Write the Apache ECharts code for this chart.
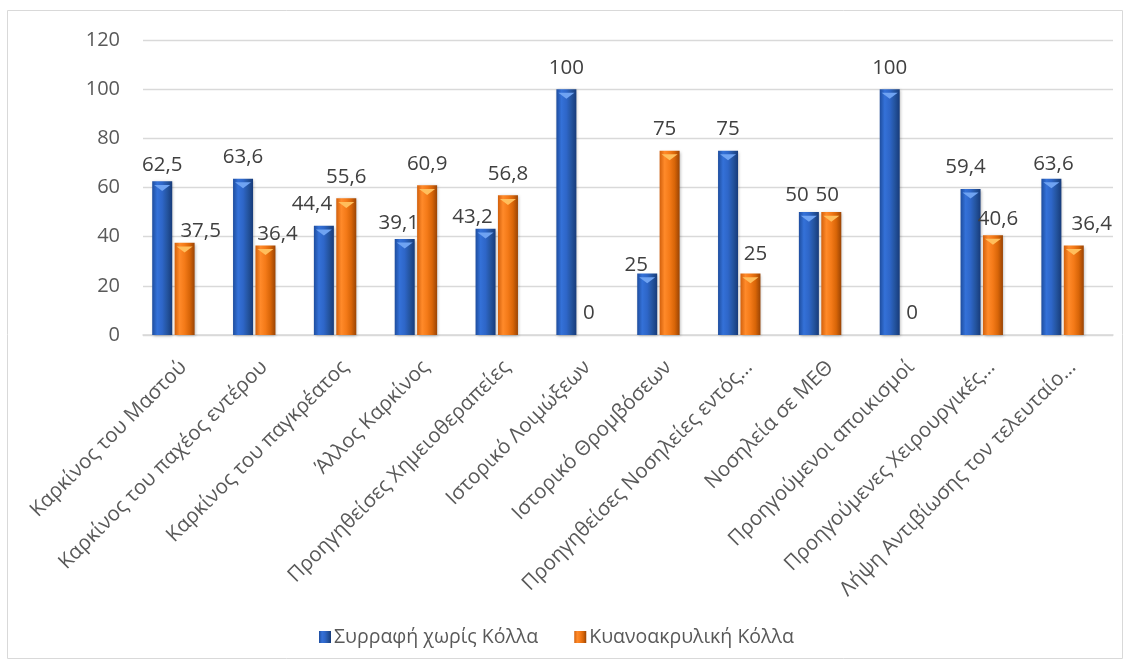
<!DOCTYPE html>
<html>
<head>
<meta charset="utf-8">
<script src="https://cdn.jsdelivr.net/npm/echarts@6/dist/echarts.min.js"></script>
<style>
  html, body { margin: 0; padding: 0; background: #fff; }
  #chart { width: 1131px; height: 665px; }
</style>
</head>
<body>
<div id="chart"></div>
<script>
// Categories (risk factors) and the percentage for each closure method
const categories = [
  'Καρκίνος του Μαστού',
  'Καρκίνος του παχέος εντέρου',
  'Καρκίνος του παγκρέατος',
  'Άλλος Καρκίνος',
  'Προηγηθείσες Χημειοθεραπείες',
  'Ιστορικό Λοιμώξεων',
  'Ιστορικό Θρομβόσεων',
  'Προηγηθείσες Νοσηλείες εντός…',
  'Νοσηλεία σε ΜΕΘ',
  'Προηγούμενοι αποικισμοί',
  'Προηγούμενες Χειρουργικές…',
  'Λήψη Αντιβίωσης τον τελευταίο…'
];
const seriesNames = ['Συρραφή χωρίς Κόλλα', 'Κυανοακρυλική Κόλλα'];
const sutureValues = [62.5, 63.6, 44.4, 39.1, 43.2, 100, 25, 75, 50, 100, 59.4, 63.6];
const glueValues   = [37.5, 36.4, 55.6, 60.9, 56.8, 0, 75, 25, 50, 0, 40.6, 36.4];
const yTicks = { min: 0, max: 120, interval: 20 };

// Nudges [dx, dy] for value labels that would otherwise collide with a neighbouring bar
const sutureLabelShift = [[0, 5], [0, 0], [-12, 0], [-6, 6], [-13, 10], [0, 0],
                          [-11, 13], [0, 0], [-12, 5], [0, 0], [-5, 0], [2, 7]];
const glueLabelShift   = [[16, 10], [12, 10], [0, 0], [0, 0], [0, 0], [0, 0],
                          [-5, 0], [5, 2], [-4, 5], [0, 0], [5, 5], [18, 0]];

const FONT = '"Open Sans", "Noto Sans", sans-serif';
const TEXT = '#595959';

function shade(stops) {
  return new echarts.graphic.LinearGradient(0, 0, 1, 0,
    stops.map((c, i) => ({ offset: i / (stops.length - 1), color: c })));
}
const blueFill   = shade(['#1E4D9E', '#3471D8', '#2E66C8', '#24549F', '#173B7A']);
const orangeFill = shade(['#D2600C', '#FF8A2A', '#F47A18', '#D86508', '#9A4404']);

const commaLabel = p => String(p.value).replace('.', ',');

function barSeries(name, values, fill, shifts) {
  return {
    name, type: 'bar', data: values,
    xAxisIndex: 1, yAxisIndex: 1,
    barWidth: 20, barGap: '12%',
    itemStyle: {
      color: fill,
      shadowColor: 'rgba(0,0,0,0.28)', shadowBlur: 3, shadowOffsetX: 1, shadowOffsetY: 1
    },
    label: {
      show: true, position: 'top', distance: 11,
      fontFamily: FONT, fontSize: 20.5, color: '#404040',
      formatter: commaLabel
    },
    labelLayout: p => ({ dx: shifts[p.dataIndex][0], dy: shifts[p.dataIndex][1] }),
    z: 3
  };
}

// Small bevel triangle at the top of each bar
function capSeries(values, color) {
  return {
    type: 'pictorialBar', data: values.map(v => v > 0 ? v : null),
    xAxisIndex: 1, yAxisIndex: 1,
    barWidth: 20, barGap: '12%',
    symbol: 'path://M0,0 L10,0 L5,4 Z',
    symbolSize: [16, 6], symbolPosition: 'end', symbolOffset: [0, '60%'],
    itemStyle: { color }, silent: true, z: 4,
    tooltip: { show: false }
  };
}

const chart = echarts.init(document.getElementById('chart'));
chart.setOption({
  animation: false,
  textStyle: { fontFamily: FONT },
  graphic: [{
    type: 'rect', shape: { x: 7.5, y: 10.5, width: 1115, height: 648 },
    style: { fill: 'none', stroke: '#D9D9D9', lineWidth: 1 }, z: -10
  }],
  legend: {
    data: seriesNames,
    left: 314, top: 622,
    itemWidth: 12, itemHeight: 12, itemGap: 36,
    icon: 'rect',
    textStyle: { fontFamily: FONT, fontSize: 19.5, color: TEXT, padding: [0, 0, 0, -2] }
  },
  grid: [
    { left: 143, right: 18, top: 40, bottom: 330 },
    { left: 133, right: 28, top: 40, bottom: 330 }
  ],
  xAxis: [
    {
      type: 'category', gridIndex: 0, data: categories,
      axisLine: { lineStyle: { color: '#D9D9D9', width: 1.5 } },
      axisTick: { show: false },
      axisLabel: {
        interval: 0, rotate: 45, margin: 29,
        fontFamily: FONT, fontSize: 20.5, color: TEXT
      }
    },
    { type: 'category', gridIndex: 1, data: categories, show: false }
  ],
  yAxis: [
    {
      type: 'value', gridIndex: 0, ...yTicks,
      axisLine: { show: false }, axisTick: { show: false },
      splitLine: { lineStyle: { color: '#D9D9D9', width: 1.3 } },
      axisLabel: { margin: 23, fontFamily: FONT, fontSize: 20, color: TEXT }
    },
    { type: 'value', gridIndex: 1, ...yTicks, show: false, splitLine: { show: false } }
  ],
  series: [
    barSeries(seriesNames[0], sutureValues, blueFill, sutureLabelShift),
    barSeries(seriesNames[1], glueValues, orangeFill, glueLabelShift),
    capSeries(sutureValues, '#6FA3F2'),
    capSeries(glueValues, '#FFBE5C')
  ]
});
</script>
</body>
</html>
